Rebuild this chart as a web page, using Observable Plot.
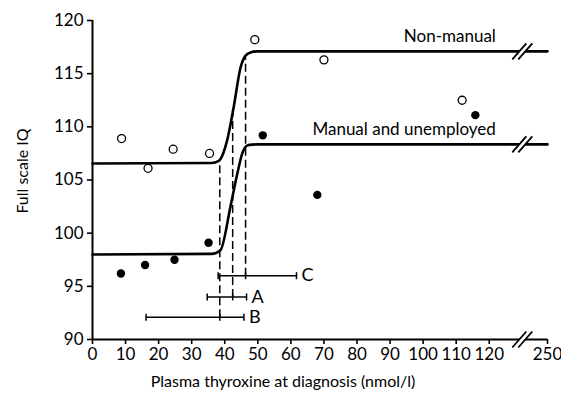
<!DOCTYPE html>
<html><head><meta charset="utf-8">
<script src="https://cdn.jsdelivr.net/npm/d3@7"></script>
<script src="https://cdn.jsdelivr.net/npm/@observablehq/plot@0.6"></script>
<style>body{margin:0;background:#fff}</style>
</head><body><div id="chart"></div>
<script>
const xTicks = [0,10,20,30,40,50,60,70,80,90,100,110,120,250];
const yTicks = [90,95,100,105,110,115,120];
const nonManualX = [8.8,16.8,24.4,35.4,49.1,70.0,111.8];
const nonManualY = [108.9,106.1,107.9,107.5,118.2,116.3,112.5];
const manualX = [8.6,15.9,24.8,35.1,51.5,68.0,115.8];
const manualY = [96.2,97.0,97.5,99.1,109.2,103.6,111.1];
const nonManualFitX = [0,36,38.2,40.7,42.7,44.8,46.3,47.8,50,250];
const nonManualFitY = [106.55,106.6,106.8,108.7,111.85,115.6,116.7,117.0,117.1,117.1];
const manualFitX = [0,36,38.7,41.7,43.8,45.3,46.8,48.5,50,250];
const manualFitY = [98.0,98.05,98.4,102.45,105.6,107.5,108.25,108.33,108.35,108.35];
const seriesNames = ["Non-manual","Manual and unemployed"];
const intervalNames = ["C","A","B"];
const intervalLow = [38.0,34.7,16.2];
const intervalHigh = [61.7,46.6,45.8];
const intervalMid = [46.3,42.4,38.5];
const intervalLevel = [96.0,94.0,92.1];
const intervalTop = [116.5,111.7,106.7];
const breakX = 130;
const xLabel = "Plasma thyroxine at diagnosis (nmol/l)";
const yLabel = "Full scale IQ";

const FONT = "Lato, 'Open Sans', sans-serif";
const idx = intervalNames.map((_, i) => i);
const seriesEnd = [nonManualFitY[nonManualFitY.length-1], manualFitY[manualFitY.length-1]];
const breakYs = [yTicks[0], seriesEnd[0], seriesEnd[1]];

const slashes = {draw(ctx){ctx.moveTo(-10,8);ctx.lineTo(4,-8);ctx.moveTo(-4,8);ctx.lineTo(10,-8);}};
const eraser = {draw(ctx){ctx.moveTo(-6.0,3.5);ctx.lineTo(-0.1,-3.5);ctx.lineTo(6.0,-3.5);ctx.lineTo(0.1,3.5);ctx.closePath();}};
const vbar = {draw(ctx){ctx.moveTo(0,-3.5);ctx.lineTo(0,3.5);}};

const chart = Plot.plot({
  width: 561, height: 396,
  marginLeft: 92, marginRight: 14, marginTop: 20, marginBottom: 57,
  style: {fontFamily: FONT, fontSize: "17px", background: "#fff", color: "#000"},
  x: {type: "linear", domain: [0, breakX, 250], range: [92, 521.8, 547]},
  y: {domain: [90, 120]},
  marks: [
    Plot.axisY({ticks: yTicks, tickSize: 5, tickPadding: 4, strokeWidth: 1.6, label: null, fontSize: 17, fontFamily: FONT}),
    Plot.axisX({ticks: xTicks, tickSize: 5, tickPadding: 3, strokeWidth: 1.6, label: null, tickFormat: d => String(d), fontSize: 17, fontFamily: FONT}),
    Plot.ruleY([yTicks[0]], {x1: 0, x2: 250, strokeWidth: 2}),
    Plot.ruleX([0], {y1: yTicks[0], y2: yTicks[yTicks.length-1], strokeWidth: 2}),
    Plot.link(idx, {x1: i => intervalMid[i], x2: i => intervalMid[i], y1: i => intervalLevel[i], y2: i => intervalTop[i], stroke: "#000", strokeWidth: 1.5, strokeDasharray: "8,4"}),
    Plot.link(idx, {x1: i => intervalLow[i], x2: i => intervalHigh[i], y1: i => intervalLevel[i], y2: i => intervalLevel[i], stroke: "#000", strokeWidth: 1.5}),
    Plot.dot(idx, {x: i => intervalLow[i], y: i => intervalLevel[i], symbol: vbar, stroke: "#000", strokeWidth: 1.5, fill: "none"}),
    Plot.dot(idx, {x: i => intervalHigh[i], y: i => intervalLevel[i], symbol: vbar, stroke: "#000", strokeWidth: 1.5, fill: "none"}),
    Plot.dot(idx, {x: i => intervalMid[i], y: i => intervalLevel[i], symbol: vbar, stroke: "#000", strokeWidth: 1.5, fill: "none"}),
    Plot.text(idx, {x: i => intervalHigh[i], y: i => intervalLevel[i], text: i => intervalNames[i], dx: 5, textAnchor: "start", fontSize: 18, fontFamily: FONT, fill: "#000"}),
    Plot.line(nonManualFitX.map((x, i) => [x, nonManualFitY[i]]), {x: d => d[0], y: d => d[1], curve: "monotone-x", strokeWidth: 2.6, stroke: "#000"}),
    Plot.line(manualFitX.map((x, i) => [x, manualFitY[i]]), {x: d => d[0], y: d => d[1], curve: "monotone-x", strokeWidth: 2.6, stroke: "#000"}),
    Plot.dot(breakYs, {x: () => breakX, y: d => d, symbol: eraser, fill: "#fff", stroke: "none"}),
    Plot.dot(breakYs, {x: () => breakX, y: d => d, symbol: slashes, fill: "none", stroke: "#000", strokeWidth: 1.8}),
    Plot.dot(nonManualX.map((x, i) => [x, nonManualY[i]]), {x: d => d[0], y: d => d[1], r: 4, fill: "#fff", stroke: "#000", strokeWidth: 1.3}),
    Plot.dot(manualX.map((x, i) => [x, manualY[i]]), {x: d => d[0], y: d => d[1], r: 4.2, fill: "#000", stroke: "none"}),
    Plot.text(seriesNames, {x: () => 122, y: (d, i) => seriesEnd[i], text: d => d, dy: -15, textAnchor: "end", fontSize: 17, fontFamily: FONT, fill: "#000"}),
    Plot.text([xLabel], {frameAnchor: "bottom", text: d => d, dx: -37, dy: 42, lineAnchor: "middle", textAnchor: "middle", fontSize: 16, fontFamily: FONT, fill: "#000"}),
    Plot.text([yLabel], {frameAnchor: "left", text: d => d, rotate: -90, dx: -70, dy: -9, lineAnchor: "middle", textAnchor: "middle", fontSize: 16, fontFamily: FONT, fill: "#000"})
  ]
});
document.getElementById("chart").appendChild(chart);
</script>
</body></html>
